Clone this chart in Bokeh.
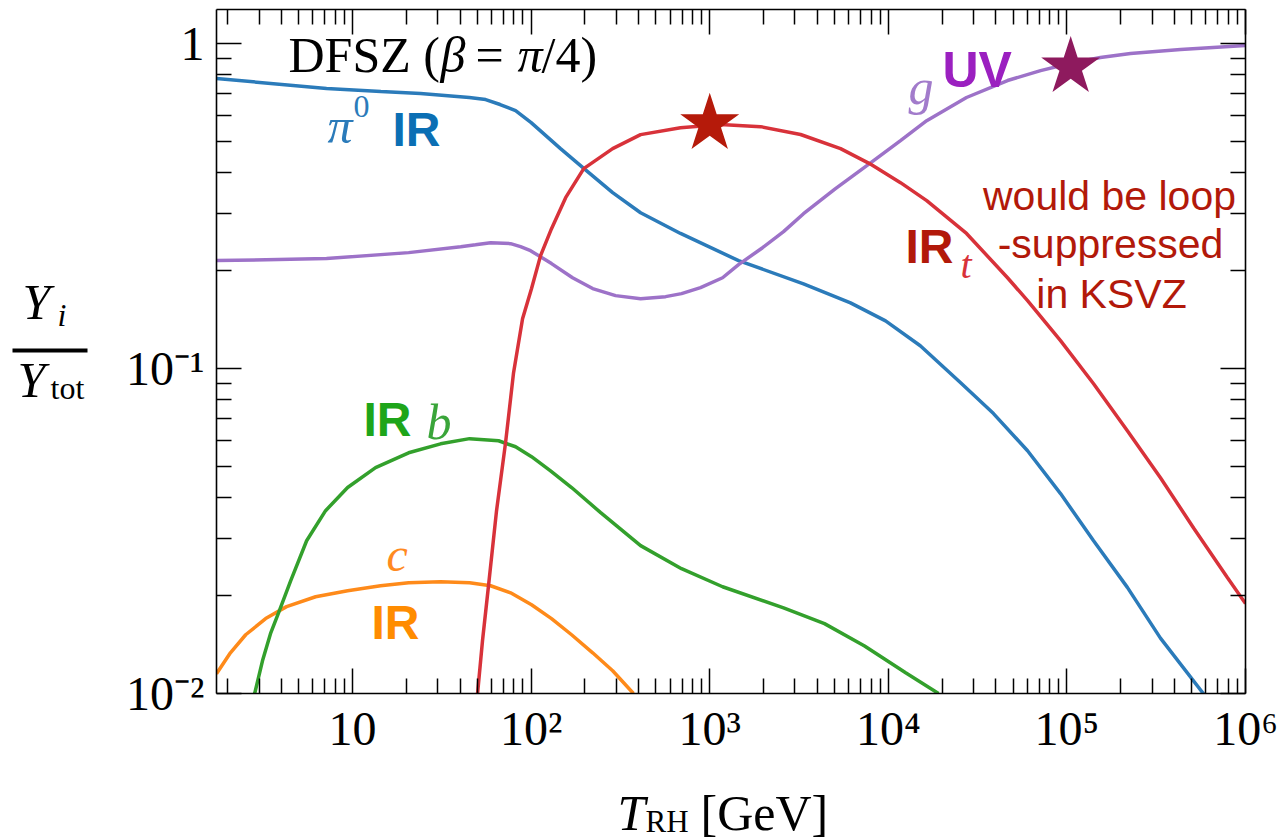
from bokeh.plotting import figure
from bokeh.models import Label, LogAxis, FixedTicker, Range1d
from bokeh.layouts import row, column
from bokeh.core.properties import value
from bokeh.embed import file_html
from bokeh.resources import INLINE

# ---------------- data ----------------
T_pi0 = [1.73, 7.15, 14.4, 24, 45, 55.6, 67, 81.8, 100, 146, 197, 286, 410, 686, 1450, 3350,
         6140, 9650, 15100, 25400, 38800, 60200, 92100, 141000, 218000, 334000, 582000]
Y_pi0 = [0.779, 0.726, 0.710, 0.700, 0.681, 0.671, 0.648, 0.621, 0.570, 0.474, 0.412, 0.347,
         0.301, 0.260, 0.2145, 0.182, 0.159, 0.140, 0.1174, 0.0903, 0.0726, 0.0558, 0.0412,
         0.0295, 0.0212, 0.0148, 0.00998]

T_g = [1.73, 7.15, 20.6, 40.3, 48.8, 59.3, 76.7, 87.2, 99.2, 130, 170.5, 221, 297, 410, 566,
       695, 888, 1180, 1450, 1975, 2590, 3350, 5060, 7850, 11700, 16400, 27400, 46500,
       71200, 103400, 154000, 227000, 433000, 1e6]
Y_g = [0.2145, 0.2176, 0.227, 0.2368, 0.240, 0.2436, 0.2419, 0.2368, 0.2302, 0.210, 0.190,
       0.176, 0.1674, 0.1638, 0.1662, 0.1698, 0.1771, 0.190, 0.2085, 0.235, 0.2634, 0.299,
       0.357, 0.4264, 0.502, 0.578, 0.681, 0.768, 0.824, 0.866, 0.904, 0.930, 0.956, 0.984]

T_t = [50.1, 53.4, 57.7, 64.0, 71.9, 79.7, 89.5, 100.5, 112.9, 130, 156, 197, 286, 410,
       686, 1150, 1925, 3225, 5400, 7850, 11700, 16400, 27400, 46500, 60200, 92100,
       141000, 218000, 334000, 512000, 793000, 1e6]
Y_t = [0.0100, 0.01453, 0.02145, 0.0365, 0.0591, 0.0970, 0.1422, 0.176, 0.2222, 0.269,
       0.335, 0.4115, 0.474, 0.5236, 0.550, 0.562, 0.554, 0.524, 0.474, 0.4264, 0.3726,
       0.328, 0.260, 0.190, 0.1615, 0.1217, 0.0897, 0.0643, 0.0461, 0.0323, 0.0227, 0.0189]

T_b = [2.83, 3.13, 3.47, 3.85, 4.50, 5.53, 7.06, 9.38, 13.45, 20.6, 31.1, 45.2, 65.7,
       81.8, 100.5, 128.4, 168.4, 245, 410, 695, 1180, 2590, 4390, 7360, 12500, 19100]
Y_b = [0.0100, 0.0126, 0.01527, 0.0177, 0.0222, 0.0295, 0.0365, 0.0430, 0.0495, 0.0550,
       0.0586, 0.0608, 0.0599, 0.0574, 0.0535, 0.0484, 0.0430, 0.0360, 0.0285, 0.0242,
       0.0213, 0.01835, 0.0164, 0.0140, 0.01158, 0.0100]

T_c = [1.73, 2.07, 2.52, 3.26, 4.27, 6.21, 9.38, 14.35, 20.6, 31.1, 45.2, 59.3, 76.7,
       100.5, 130, 168.4, 221, 286, 374]
Y_c = [0.0115, 0.01334, 0.01516, 0.0170, 0.0185, 0.01984, 0.0207, 0.02145, 0.0219,
       0.02207, 0.0219, 0.02145, 0.0204, 0.01875, 0.0170, 0.01516, 0.01334, 0.01175, 0.0100]

star_T = [1000, 1.05e5]
star_Y = [0.565, 0.845]

x_major_ticks = [10, 100, 1e3, 1e4, 1e5, 1e6]
x_tick_labels = ["10", "10²", "10³", "10⁴", "10⁵", "10⁶"]
y_major_ticks = [0.01, 0.1, 1]
y_tick_labels = ["10⁻²", "10⁻¹", "1"]
x_minor_ticks = [m * 10 ** k for k in range(0, 6) for m in range(2, 10)]
y_minor_ticks = [m * 10.0 ** k for k in (-2, -1) for m in range(2, 10)]

SERIF = "Liberation Serif"
SANS = "Liberation Sans"
DY = 16  # baseline correction for text

# ---------------- main figure ----------------
YW = 100          # width of the y-title strip
MAIN_H = 760      # height of main figure
FL_PAGE, FT_PAGE, FB_PAGE = 216, 9, 693  # frame left / top / bottom in page pixels

p = figure(width=1279 - YW, height=MAIN_H, x_axis_type="log", y_axis_type="log",
           x_range=(1.73, 1e6), y_range=(0.01, 1.27),
           min_border_left=FL_PAGE - YW, min_border_right=34, min_border_top=FT_PAGE,
           min_border_bottom=MAIN_H - FB_PAGE,
           output_backend="svg", toolbar_location=None,
           x_axis_location=None, y_axis_location=None)
p.background_fill_color = "white"
p.border_fill_color = "white"
p.outline_line_color = None
p.xgrid.visible = False
p.ygrid.visible = False

xt = FixedTicker(ticks=x_major_ticks, minor_ticks=x_minor_ticks)
yt = FixedTicker(ticks=y_major_ticks, minor_ticks=y_minor_ticks)


def style_axis(ax, show_labels):
    ax.axis_line_color = "black"
    ax.axis_line_width = 1.6
    ax.major_tick_in = 25
    ax.major_tick_out = 0
    ax.minor_tick_in = 15
    ax.minor_tick_out = 0
    ax.major_tick_line_width = 1.5
    ax.minor_tick_line_width = 1.5
    ax.major_tick_line_color = "black"
    ax.minor_tick_line_color = "black"
    if show_labels:
        ax.major_label_text_font = SERIF
        ax.major_label_text_font_size = "48px"
        ax.major_label_text_color = "black"
    else:
        ax.major_label_text_font_size = "2px"
        ax.major_label_text_alpha = 0
        ax.major_label_standoff = 0


bottom = LogAxis(ticker=xt, major_label_overrides=dict(zip(x_major_ticks, x_tick_labels)))
style_axis(bottom, True)
bottom.major_label_standoff = 8
left = LogAxis(ticker=yt, major_label_overrides=dict(zip(y_major_ticks, y_tick_labels)))
style_axis(left, True)
left.major_label_standoff = 12
top = LogAxis(ticker=xt)
style_axis(top, False)
right = LogAxis(ticker=yt)
style_axis(right, False)
p.add_layout(bottom, "below")
p.add_layout(left, "left")
p.add_layout(top, "above")
p.add_layout(right, "right")

LW = 3.5
p.line(T_c, Y_c, line_color="#fe8a1a", line_width=LW)
p.line(T_b, Y_b, line_color="#33a02c", line_width=LW)
p.line(T_pi0, Y_pi0, line_color="#2b7bba", line_width=LW)
p.line(T_g, Y_g, line_color="#9d72c8", line_width=LW)
p.line(T_t, Y_t, line_color="#d8323a", line_width=LW)

p.scatter(star_T, star_Y, marker="star", size=62,
          fill_color=["#b51a0a", "#8e1a5e"], line_color=None)


def add_text(txt, px, py, size, color="black", font=SERIF, style="normal", align="left"):
    p.add_layout(Label(x=px - FL_PAGE, y=FB_PAGE - py + DY, x_units="screen", y_units="screen",
                       text=txt, text_font=font, text_font_size=f"{size}px",
                       text_font_style=style, text_color=color,
                       text_align=align, text_baseline="alphabetic"))


add_text("DFSZ (", 288, 70, 50)
add_text("β", 440, 70, 50, style="italic")
add_text("=", 475, 70, 50)
add_text("π", 517, 70, 50, style="italic")
add_text("/4)", 541, 70, 50)

add_text("π", 327, 141, 50, "#2b7bba", style="italic")
add_text("0", 353, 122, 32, "#2b7bba")
add_text("IR", 392, 145, 48, "#0b6fb4", SANS, "bold")

add_text("g", 908, 102, 50, "#a27bcb", style="italic")
add_text("UV", 942, 85, 50, "#9b20c0", SANS, "bold")

add_text("IR", 905, 262, 48, "#b2190a", SANS, "bold")
add_text("t", 960, 280, 40, "#d8323a", style="italic")
add_text("would be loop", 1109, 211, 41, "#b2190a", SANS, align="center")
add_text("-suppressed", 1110, 259, 41, "#b2190a", SANS, align="center")
add_text("in KSVZ", 1111, 309, 41, "#b2190a", SANS, align="center")

add_text("IR", 363, 435, 48, "#1ea51a", SANS, "bold")
add_text("b", 426, 437, 50, "#3aa53a", style="italic")

add_text("c", 386, 570, 48, "#ff8a1f", style="italic")
add_text("IR", 371, 638, 48, "#ff8c00", SANS, "bold")


# ---------------- title strips (page-pixel coordinates) ----------------
def strip(width, height, x0, top, bot, b_top, b_bot):
    f = figure(width=width, height=height, x_range=Range1d(x0, x0 + width),
               y_range=Range1d(bot, top), min_border_left=0, min_border_right=0,
               min_border_top=b_top, min_border_bottom=b_bot,
               output_backend="svg", toolbar_location=None,
               x_axis_location=None, y_axis_location=None)
    f.outline_line_color = None
    f.background_fill_color = "white"
    f.border_fill_color = "white"
    f.xgrid.visible = False
    f.ygrid.visible = False
    return f


def strip_text(f, txt, px, py, size, style="normal"):
    f.text(x=[px], y=[py - DY], text=[txt], text_font=value(SERIF),
           text_font_size=f"{size}px", text_font_style=style, text_color="black",
           text_align="left", text_baseline="alphabetic")


# y-title strip shares the main frame's vertical extent (page pixels 9..693)
yfig = strip(YW, MAIN_H, 0, FT_PAGE, FB_PAGE, FT_PAGE, MAIN_H - FB_PAGE)
strip_text(yfig, "Y", 22, 317, 50, "italic")
strip_text(yfig, "i", 57, 330, 32, "italic")
strip_text(yfig, "Y", 17, 395, 50, "italic")
strip_text(yfig, "tot", 50, 403, 32)
yfig.quad(left=[12], right=[87], top=[348], bottom=[352], fill_color="black", line_color=None)

xfig = strip(1279, 840 - MAIN_H, 0, MAIN_H, 840, 0, 0)
strip_text(xfig, "T", 617, 828, 50, "italic")
strip_text(xfig, "RH", 645, 837, 31)
strip_text(xfig, "[GeV]", 700, 828, 50)

layout = column(row(yfig, p), xfig)
open("out.html", "w").write(file_html(layout, INLINE))
